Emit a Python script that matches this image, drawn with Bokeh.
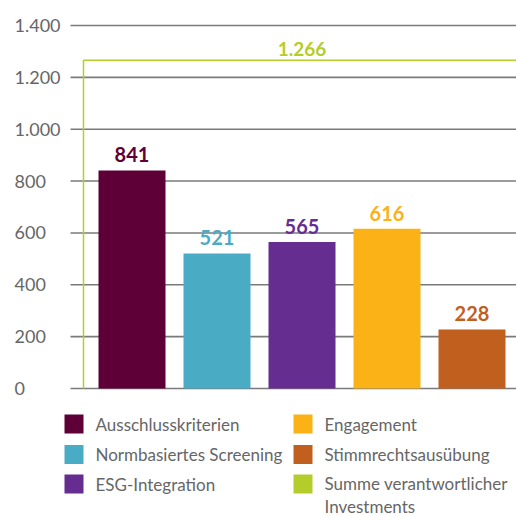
from bokeh.plotting import figure
from bokeh.models import Range1d
from bokeh.core.properties import value
from bokeh.embed import file_html
from bokeh.resources import INLINE

# ---------------- data ----------------
categories = ["Ausschlusskriterien", "Normbasiertes Screening", "ESG-Integration",
              "Engagement", "Stimmrechtsausübung"]
values = [841, 521, 565, 616, 228]
colors = ["#5e0037", "#4aabc5", "#662d91", "#fbb217", "#c15f1f"]
total_name = "Summe verantwortlicher\nInvestments"
total_value = 1266
total_color = "#b5cd2a"
y_ticks = [0, 200, 400, 600, 800, 1000, 1200, 1400]
y_tick_labels = ["0", "200", "400", "600", "800", "1.000", "1.200", "1.400"]

def fmt(v):
    return f"{v:,}".replace(",", ".")

# ---------------- layout (screen pixels -> data) ----------------
W, H = 516, 516
CAT_PX = 85.0          # pixels per category
FIRST_CENTER = 131.5   # px of first bar centre
ZERO_PY = 388.0        # px of y = 0
PX_PER_UNIT = 363.0 / 1400.0

def xd(px):
    return (px - FIRST_CENTER) / CAT_PX

def yd(py):
    return (ZERO_PY - py) / PX_PER_UNIT

FONT = "Lato"
TEXT_GREY = "#666666"

p = figure(width=W, height=H, output_backend="svg", toolbar_location=None,
           x_range=Range1d(xd(0), xd(W)), y_range=Range1d(yd(H), yd(0)),
           min_border=0, outline_line_color=None)
p.axis.visible = False
p.grid.visible = False
p.background_fill_color = "white"
p.border_fill_color = "white"

# grid lines
n = len(y_ticks)
p.segment(x0=[xd(70)] * n, x1=[xd(520)] * n, y0=y_ticks, y1=y_ticks,
          line_color="#7a7a7a", line_width=1.6)

# y tick labels (left aligned)
p.text(x=[xd(14)] * n, y=y_ticks, text=y_tick_labels, text_align="left",
       text_baseline="middle", text_font=value(FONT), text_font_size="18px",
       text_color=TEXT_GREY)

# total bracket
p.line(x=[xd(83), xd(83), xd(520)], y=[0, total_value, total_value],
       line_color=total_color, line_width=1.5)
mid = (len(categories) - 1) / 2
p.text(x=[mid], y=[total_value], text=[fmt(total_value)], text_align="center",
       text_baseline="bottom", y_offset=-4, text_font=value(FONT),
       text_font_style="bold", text_font_size="19px", text_color=total_color)

# bars
xs = list(range(len(categories)))
p.vbar(x=xs, top=values, bottom=0, width=67 / CAT_PX, fill_color=colors,
       line_color=None)
p.text(x=xs, y=values, text=[fmt(v) for v in values], text_align="center",
       text_baseline="bottom", y_offset=-8, text_font=value(FONT),
       text_font_style="bold", text_font_size="20px", text_color=colors)

# legend (two columns)
names = categories + [total_name]
cols = colors + [total_color]
sq_x = [xd(73.5)] * 3 + [xd(302.5)] * 3
row_py = [423.5, 454, 483.5] * 2
row_y = [yd(v) for v in row_py]
txt_x = [xd(95)] * 3 + [xd(324)] * 3
p.scatter(x=sq_x, y=row_y, marker="square", size=19, fill_color=cols,
          line_color=None)
# single-line labels centred on their row, the two-line one hangs from its row
single = [i for i, s in enumerate(names) if "\n" not in s]
multi = [i for i, s in enumerate(names) if "\n" in s]
p.text(x=[txt_x[i] for i in single], y=[row_y[i] for i in single],
       text=[names[i] for i in single], text_align="left", text_baseline="middle",
       text_font=value(FONT), text_font_size="17px", text_color=TEXT_GREY)
p.text(x=[txt_x[i] for i in multi], y=[row_y[i] for i in multi],
       text=[names[i] for i in multi], text_align="left", text_baseline="middle",
       y_offset=11, text_font=value(FONT), text_font_size="17px",
       text_color=TEXT_GREY, text_line_height=1.1)

open("out.html", "w").write(file_html(p, INLINE))
